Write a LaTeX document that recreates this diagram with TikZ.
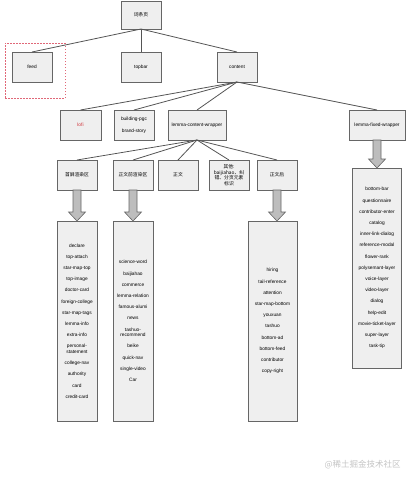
\documentclass[tikz,border=0pt]{standalone}
\usepackage{fontspec}
\setmainfont{Liberation Sans}
\newfontfamily\cjk{Noto Sans CJK SC}
\usetikzlibrary{positioning, calc}
\definecolor{boxfill}{HTML}{EFEFEF}
\definecolor{boxline}{HTML}{666666}
\definecolor{linkgray}{HTML}{555555}
\definecolor{arrowfill}{HTML}{BDBDBD}
\definecolor{hintred}{HTML}{E06878}
\definecolor{lofired}{HTML}{D0343A}
\definecolor{markgray}{HTML}{C4C4C4}
\tikzset{
    treebox/.style={
        draw=boxline,
        fill=boxfill,
        line width=0.8pt,
        align=center,
        minimum width=40pt,
        minimum height=30pt,
        inner sep=1pt,
        outer sep=0pt,
        font=\fontsize{4.8}{5.6}\selectfont
    },
    cjkbox/.style={treebox, font=\cjk\fontsize{4.8}{5.6}\selectfont},
    listbox/.style={treebox, minimum height=200pt, font=\fontsize{4.8}{11.2}\selectfont},
    link/.style={draw=linkgray, line width=0.8pt},
    fatarrow/.style={draw=boxline, fill=arrowfill, line width=0.6pt},
    hintframe/.style={draw=hintred, dash pattern=on 1.5pt off 1.5pt, line width=0.5pt,
        minimum width=60pt, minimum height=55pt}
}
% block arrow from a box down to its list
\newcommand{\blockarrow}[2]{%
    \coordinate (tip) at (#1.south |- #2.north);
    \draw[fatarrow] ($(#1.south)+(-4,0)$) -- ($(tip)+(-4,-9)$) -- ($(tip)+(-8.5,-9)$) -- (tip)
        -- ($(tip)+(8.5,-9)$) -- ($(tip)+(4,-9)$) -- ($(#1.south)+(4,0)$) -- cycle;}

\begin{document}
\begin{tikzpicture}[x=1pt, y=-1pt]
    \useasboundingbox (0,0) rectangle (415,483);

    % first levels
    \node[cjkbox, minimum height=28pt] (page) at (141,15) {词条页};
    \node[treebox] (feed) at (32,67) {feed};
    \node[treebox, right=69pt of feed] (topbar) {topbar};
    \node[treebox, right=56pt of topbar] (content) {content};
    \node[hintframe] (feedmark) at (35,70.5) {};

    \node[treebox, text=lofired, minimum width=41pt] (lofi) at (80.5,125) {lofi};
    \node[treebox, right=13pt of lofi] (pgc) {building-pgc\\[6.4pt]brand-story};
    \node[treebox, right=14pt of pgc, minimum width=58pt] (lcw) {lemma-content-wrapper};
    \node[treebox, minimum width=56pt] (lfw) at (377,125) {lemma-fixed-wrapper};

    % render areas
    \node[cjkbox] (shouping) at (77,175) {首屏渲染区};
    \node[cjkbox, right=16pt of shouping] (qian) {正文前渲染区};
    \node[cjkbox, right=5pt of qian] (zhengwen) {正文};
    \node[cjkbox, right=11pt of zhengwen] (qita) {其他:\\baijiahao、纠\\错、分页元素\\标识};
    \node[cjkbox, right=8pt of qita] (hou) {正文后};

    % component lists
    \node[listbox, below=31pt of shouping] (shoulist) {declare\\top-attach\\star-map-top\\top-image\\doctor-card\\foreign-college\\star-map-tags\\lemma-info\\extra-info\\personal-\\[-5.6pt]statement\\college-nav\\authority\\card\\credit-card};
    \node[listbox, below=31pt of qian] (qianlist) {science-word\\baijiahao\\commerce\\lemma-relation\\famous-alumi\\news\\tashuo-\\[-5.6pt]recommend\\beike\\quick-nav\\single-video\\Car};
    \node[listbox, minimum width=49pt, below=31pt of hou.south east, anchor=north east] (houlist) {hiring\\tail-reference\\attention\\star-map-bottom\\youxuan\\tashuo\\bottom-ad\\bottom-feed\\contributor\\copy-right};
    \node[listbox, minimum width=49pt, below=28pt of lfw] (fixlist) {bottom-bar\\questionnaire\\contributor-enter\\catalog\\inner-link-dialog\\reference-modal\\flower-rank\\polysemant-layer\\voice-layer\\video-layer\\dialog\\help-edit\\movie-ticket-layer\\super-layer\\task-tip};

    \draw[link] (page.south) -- (feed.north);
    \draw[link] (page.south) -- (topbar.north);
    \draw[link] (page.south) -- (content.north);

    \draw[link] (content.south) -- (lofi.north);
    \draw[link] (content.south) -- (pgc.north);
    \draw[link] (content.south) -- (lcw.north);
    \draw[link] (content.south) -- (lfw.north);

    \draw[link] (lcw.south) -- (shouping.north);
    \draw[link] (lcw.south) -- (qian.north);
    \draw[link] (lcw.south) -- (zhengwen.north);
    \draw[link] (lcw.south) -- (qita.north);
    \draw[link] (lcw.south) -- (hou.north);

    \blockarrow{shouping}{shoulist}
    \blockarrow{qian}{qianlist}
    \blockarrow{hou}{houlist}
    \blockarrow{lfw}{fixlist}

    \node[text=markgray, font=\cjk\fontsize{8.5}{10}\selectfont, anchor=west] (mark) at (321,465) {@稀土掘金技术社区};
\end{tikzpicture}
\end{document}
